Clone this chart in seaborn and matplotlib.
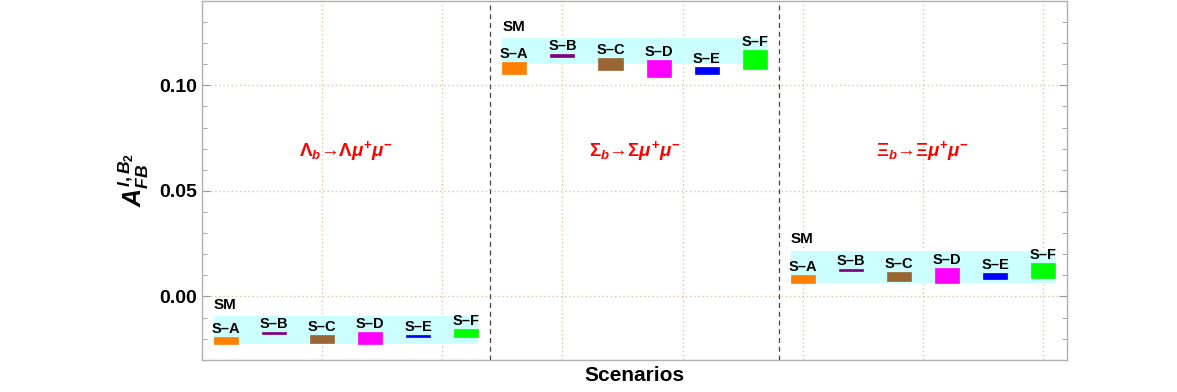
import numpy as np
import matplotlib
matplotlib.use("Agg")
import matplotlib.pyplot as plt
import seaborn as sns

# ---- data ----
processes = [r"$\Lambda_b$→$\Lambda\mu^{+}\mu^{-}$",
             r"$\Sigma_b$→$\Sigma\mu^{+}\mu^{-}$",
             r"$\Xi_b$→$\Xi\mu^{+}\mu^{-}$"]
scenarios = ["S–A", "S–B", "S–C", "S–D", "S–E", "S–F"]
colors = ["#ff8000", "#800080", "#996633", "#ff00ff", "#0000ff", "#00ff00"]

# SM band (low, high) per process
sm_low = [-0.0225, 0.1101, 0.0063]
sm_high = [-0.0094, 0.1222, 0.0216]

# scenario ranges (low, high) per process
lam_low = [-0.0224, -0.0177, -0.0218, -0.0225, -0.0191, -0.0190]
lam_high = [-0.0193, -0.0169, -0.0181, -0.0169, -0.0183, -0.0156]
sig_low = [0.1054, 0.1136, 0.1070, 0.1040, 0.1051, 0.1079]
sig_high = [0.1109, 0.1150, 0.1128, 0.1121, 0.1086, 0.1165]
xi_low = [0.0065, 0.0119, 0.0073, 0.0063, 0.0084, 0.0089]
xi_high = [0.0101, 0.0130, 0.0116, 0.0136, 0.0111, 0.0157]

lows = [lam_low, sig_low, xi_low]
highs = [lam_high, sig_high, xi_high]

sns.set_style("white")
plt.rcParams["font.family"] = ["Liberation Sans", "DejaVu Sans"]
plt.rcParams["text.color"] = "black"
plt.rcParams["axes.labelcolor"] = "black"
plt.rcParams["ytick.labelcolor"] = "black"
plt.rcParams["mathtext.fontset"] = "custom"
plt.rcParams["mathtext.rm"] = "Liberation Sans:bold"
plt.rcParams["mathtext.it"] = "Liberation Sans:italic:bold"
plt.rcParams["mathtext.bf"] = "Liberation Sans:bold"

fig = plt.figure(figsize=(11.77, 3.92), dpi=100)
ax = fig.add_axes([0.1716, 0.082, 0.735, 0.916])

group_w = 2.4
bar_w = 0.2
for g in range(3):
    x0 = g * group_w
    xs = x0 + 0.2 + 0.4 * np.arange(6)
    # SM band
    ax.bar(x0 + 1.2, sm_high[g] - sm_low[g], width=2.2, bottom=sm_low[g],
           color="#ccffff", edgecolor="none", zorder=1)
    ax.text(x0 + 0.1, sm_high[g] + 0.0022, "SM", fontsize=11, fontweight="bold",
            ha="left", va="bottom", zorder=4)
    lo = np.array(lows[g])
    hi = np.array(highs[g])
    ax.bar(xs, hi - lo, width=bar_w, bottom=lo, color=colors,
           edgecolor=colors, linewidth=0.5, zorder=2)
    for x, h, lab in zip(xs, hi, scenarios):
        ax.text(x, h + 0.0005, lab, fontsize=10.5, fontweight="bold",
                ha="center", va="bottom", zorder=4)
    ax.text(x0 + 1.2, 0.069, processes[g], color="red", fontsize=13.5,
            fontweight="bold", ha="center", va="center")

for xd in [2.4, 4.8]:
    ax.axvline(xd, color="#444444", linestyle=(0, (4, 3)), linewidth=0.9, zorder=3)

ax.set_xlim(0, 7.2)
ax.set_ylim(-0.03, 0.14)
ax.set_xticks(np.arange(1, 8))
ax.set_xticklabels([])
ax.tick_params(axis="x", length=0)
ax.set_yticks([0.0, 0.05, 0.10])
ax.set_yticklabels(["0.00", "0.05", "0.10"])
ax.set_yticks(np.arange(-0.03, 0.141, 0.01), minor=True)
ax.tick_params(axis="y", which="major", direction="in", length=6, width=0.8,
               color="#999999", labelsize=14, right=True, left=True)
ax.tick_params(axis="y", which="minor", direction="in", length=3.5, width=0.6,
               color="#999999", right=True, left=True)
for lbl in ax.get_yticklabels():
    lbl.set_fontweight("bold")

ax.grid(True, which="major", color="#e0c4a4", linestyle=(0, (1, 2)), linewidth=1.0)
ax.set_axisbelow(True)
for s in ax.spines.values():
    s.set_color("#b0b0b0")
    s.set_linewidth(1.0)

ax.set_ylabel(r"$A_{FB}^{l,B_2}$", fontsize=18, labelpad=6)
ax.set_xlabel("Scenarios", fontsize=15, fontweight="bold", labelpad=1)

fig.savefig("out.png", dpi=100)
